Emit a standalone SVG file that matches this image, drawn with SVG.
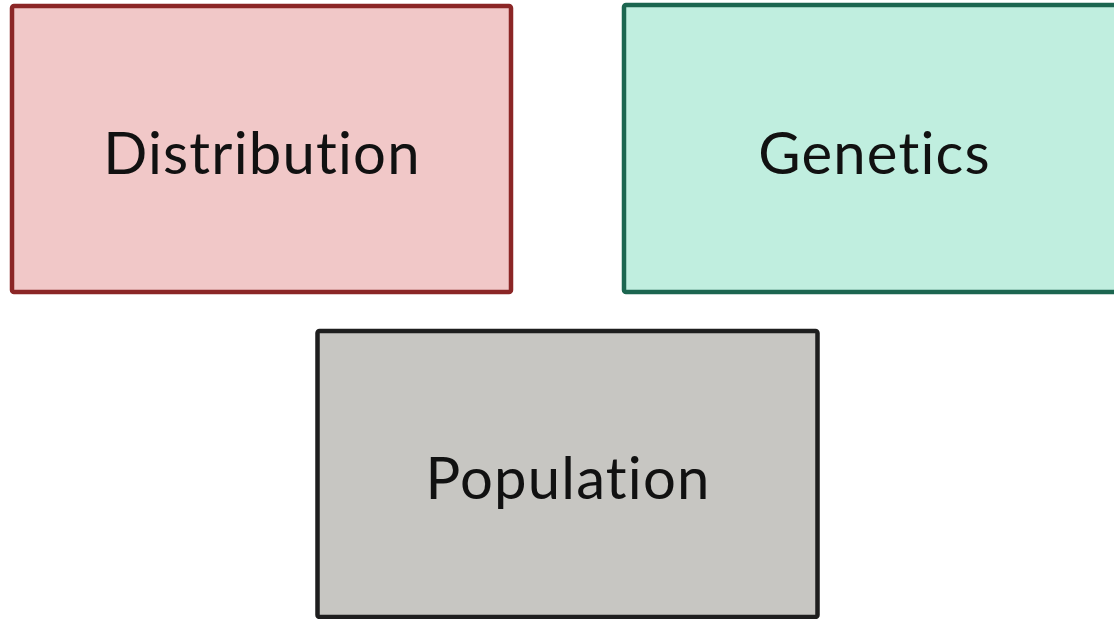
<svg xmlns="http://www.w3.org/2000/svg" width="1114" height="619" viewBox="0 0 1114 619">
<style>
.box{stroke-width:4.5;stroke-linejoin:round}
.lbl{font-family:Lato,"Liberation Sans",sans-serif;font-size:58px;fill:#111;text-anchor:middle;font-variant-ligatures:none;font-feature-settings:"liga" 0;letter-spacing:1.2px}
</style>
<rect width="1114" height="619" fill="#ffffff"/>
<g id="distribution">
<rect class="box" x="12" y="6" width="499" height="286" rx="2" fill="#f1c8c8" stroke="#8b2626"/>
<text class="lbl" x="262" y="173.5">Distribution</text>
</g>
<g id="genetics">
<rect class="box" x="624" y="5" width="510" height="287" rx="2" fill="#c0eedf" stroke="#1c6650"/>
<text class="lbl" x="874.5" y="173.5">Genetics</text>
</g>
<g id="population">
<rect class="box" x="317.5" y="331" width="500" height="286" rx="2" fill="#c7c6c2" stroke="#1e1e1e"/>
<text class="lbl" x="568" y="498.5">Population</text>
</g>
<g id="connectors"></g>
</svg>
